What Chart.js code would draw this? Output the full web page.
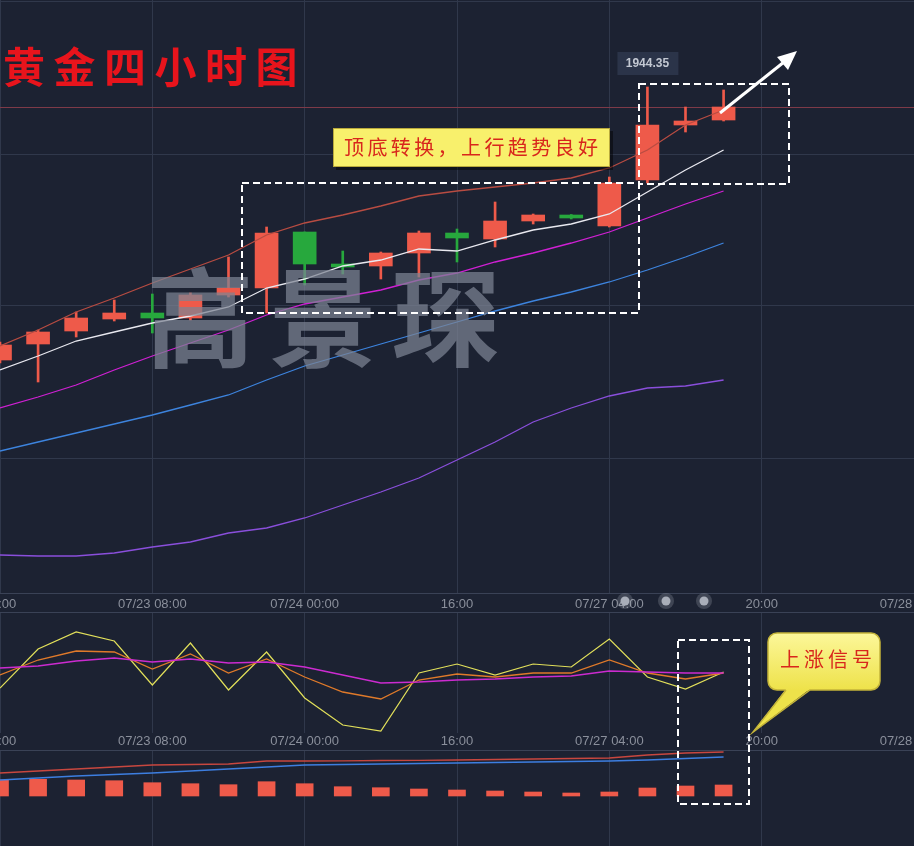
<!DOCTYPE html>
<html>
<head>
<meta charset="utf-8">
<script src="https://cdn.jsdelivr.net/npm/chart.js@4.4.1/dist/chart.umd.min.js"></script>
<style>
  html, body { margin: 0; padding: 0; background: #1c2232; width: 914px; height: 846px; overflow: hidden; }
  canvas { position: absolute; left: 0; }
</style>
</head>
<body>
<canvas id="mainChart" width="914" height="612" style="top:0"></canvas>
<canvas id="kdjChart" width="914" height="138" style="top:612px"></canvas>
<canvas id="macdChart" width="914" height="96" style="top:750px"></canvas>
<canvas id="marks" width="914" height="846" style="top:0"></canvas>
<script>
// 4小时K线的时间槽（后面几格是空白的未来时段）
const categories = ['07/22 16:00', '07/22 20:00', '07/23 00:00', '07/23 04:00', '07/23 08:00', '07/23 12:00',
  '07/23 16:00', '07/23 20:00', '07/24 00:00', '07/24 04:00', '07/24 08:00', '07/24 12:00', '07/24 16:00',
  '07/24 20:00', '07/25 00:00', '07/27 00:00', '07/27 04:00', '07/27 08:00', '07/27 12:00', '07/27 16:00',
  '07/27 20:00', '07/28 00:00', '07/28 04:00', '07/28 08:00', '07/28 12:00'];
const tickLabels = ['16:00', '07/23 08:00', '07/24 00:00', '16:00', '07/27 04:00', '20:00', '07/28 12:00'];

// K线
const opens  = [1859.72, 1864.68, 1868.71, 1872.43, 1874.29, 1872.74, 1879.87, 1882.04, 1899.40, 1889.48,
  1888.86, 1892.89, 1899.09, 1897.23, 1902.81, 1904.67, 1901.26, 1915.52, 1932.57, 1934.12];
const highs  = [1865.30, 1869.02, 1874.60, 1878.32, 1880.18, 1880.49, 1891.65, 1900.95, 1899.40, 1893.51,
  1893.20, 1899.71, 1900.33, 1908.70, 1904.98, 1904.82, 1916.45, 1944.35, 1938.15, 1943.42];
const lows   = [1858.79, 1852.90, 1866.85, 1871.81, 1868.09, 1872.12, 1879.25, 1874.29, 1882.97, 1886.38,
  1884.83, 1885.45, 1890.10, 1894.75, 1901.88, 1903.43, 1900.95, 1914.59, 1930.40, 1933.81];
const closes = [1864.37, 1868.40, 1872.74, 1874.29, 1872.74, 1879.87, 1882.04, 1899.09, 1889.48, 1888.55,
  1892.89, 1899.09, 1897.54, 1902.81, 1904.67, 1903.74, 1914.59, 1932.57, 1933.81, 1938.15];

// 均线
const maUpper = [1864.06, 1869.02, 1874.60, 1878.94, 1883.59, 1887.93, 1892.27, 1898.47, 1902.19, 1904.67,
  1907.46, 1910.56, 1912.11, 1913.35, 1914.59, 1916.14, 1919.24, 1924.82, 1932.57, 1937.22];
const ma5  = [1856.62, 1860.96, 1865.61, 1868.40, 1871.19, 1873.36, 1876.15, 1882.04, 1884.83, 1888.86,
  1890.72, 1894.13, 1893.51, 1896.92, 1900.02, 1901.88, 1904.98, 1911.80, 1918.62, 1924.82];
const ma10 = [1844.84, 1848.25, 1851.97, 1856.62, 1860.96, 1864.99, 1869.02, 1873.67, 1877.08, 1879.25,
  1881.42, 1884.52, 1886.69, 1890.10, 1892.89, 1895.99, 1899.40, 1903.74, 1908.08, 1912.11];
const ma20 = [1831.51, 1834.30, 1837.09, 1839.88, 1842.67, 1845.77, 1848.87, 1853.52, 1857.86, 1861.27,
  1864.68, 1868.09, 1871.50, 1874.91, 1878.01, 1880.80, 1883.90, 1887.62, 1891.65, 1895.99];
const ma60 = [1799.27, 1798.96, 1798.96, 1799.89, 1801.75, 1803.30, 1806.09, 1807.64, 1810.74, 1814.77,
  1818.80, 1823.14, 1828.72, 1834.30, 1840.50, 1844.84, 1848.56, 1851.04, 1851.66, 1853.52];
const priceGrid = [1970.70, 1923.58, 1876.46, 1829.34];

// KDJ
const kLine = [47.93, 60.33, 67.77, 66.94, 52.89, 65.29, 49.59, 61.16, 46.28, 33.88,
  28.10, 43.80, 48.76, 46.28, 49.59, 49.59, 60.33, 49.59, 44.63, 49.59];
const dLine = [53.72, 55.37, 59.50, 61.98, 58.68, 61.16, 57.85, 58.68, 54.55, 47.93,
  41.32, 42.15, 43.80, 44.63, 46.28, 47.11, 51.24, 50.41, 49.59, 49.59];
const jLine = [37.19, 69.42, 83.47, 76.03, 39.67, 74.38, 35.54, 66.94, 28.93, 6.61,
  1.65, 49.59, 57.02, 47.93, 57.02, 54.55, 77.69, 46.28, 36.36, 50.41];

// MACD
const dif  = [11.5, 12.5, 13.5, 14.5, 15.5, 15.75, 16, 17.5, 17.5, 17.6, 17.75, 17.85, 18, 18.25, 18.5, 18.75, 19, 20.5, 21.5, 22];
const dea  = [8, 9, 10, 10.75, 11.5, 12.5, 13.5, 14.5, 15.5, 15.75, 16, 16.25, 16.5, 16.75, 17, 17.25, 17.5, 18, 18.75, 19.5];
const hist = [8, 8.35, 8, 7.65, 6.65, 6.15, 5.65, 7.15, 6.15, 4.65, 4.15, 3.5, 3, 2.5, 2, 1.5, 2, 4, 5, 5.5];

const RED = '#ee5a4a';
const GREEN = '#27a83d';
const GRID = '#30384b';
const AXIS_TEXT = '#8a8f9b';

Chart.defaults.font.family = '"Liberation Sans", Arial, sans-serif';
Chart.defaults.animation = false;

const candleColors = opens.map((o, i) => closes[i] >= o ? RED : GREEN);

function line(data, color, width) {
  return { type: 'line', data: data, borderColor: color, borderWidth: width || 1.2,
    pointRadius: 0, tension: 0, fill: false };
}

function timeAxis(showLabels, height, pad) {
  return {
    offset: false,
    border: { display: false },
    grid: { offset: false, drawTicks: false, color: c => c.index % 4 === 0 ? GRID : 'rgba(0,0,0,0)' },
    ticks: {
      display: showLabels, autoSkip: false, maxRotation: 0, padding: pad || 0,
      color: AXIS_TEXT, font: { size: 13 },
      callback: (v, i) => i % 4 === 0 ? tickLabels[i / 4] : ''
    },
    afterFit: s => { s.paddingLeft = 0; s.paddingRight = 0; s.height = height; }
  };
}

function hiddenY(min, max, grid) {
  return {
    min: min, max: max,
    border: { display: false },
    ticks: { display: false },
    grid: { drawTicks: false, display: !!grid, color: GRID },
    afterBuildTicks: s => { if (grid) s.ticks = grid.map(v => ({ value: v })); },
    afterFit: s => { s.width = 0; }
  };
}

const basePlugins = { legend: { display: false }, tooltip: { enabled: false } };

// 最新价横线和最高价标签
const priceMarks = {
  id: 'priceMarks',
  beforeDatasetsDraw(chart) {
    const { ctx, chartArea, scales } = chart;
    const y = Math.round(scales.y.getPixelForValue(closes[closes.length - 1])) + 0.5;
    ctx.save();
    ctx.strokeStyle = '#7e3a48';
    ctx.lineWidth = 1;
    ctx.beginPath();
    ctx.moveTo(chartArea.left, y);
    ctx.lineTo(chartArea.right, y);
    ctx.stroke();
    ctx.restore();
  },
  afterDraw(chart) {
    const { ctx, scales } = chart;
    const top = Math.max(...highs);
    const idx = highs.indexOf(top);
    const x = scales.x.getPixelForValue(idx);
    const y = scales.y.getPixelForValue(top);
    ctx.save();
    ctx.fillStyle = '#2b3449';
    ctx.fillRect(x - 30, y - 35, 61, 23);
    ctx.fillStyle = '#c3c8d2';
    ctx.font = 'bold 12px "Liberation Sans", Arial, sans-serif';
    ctx.textAlign = 'center';
    ctx.textBaseline = 'middle';
    ctx.fillText(top.toFixed(2), x, y - 23);
    ctx.restore();
  }
};

new Chart(document.getElementById('mainChart').getContext('2d'), {
  type: 'bar',
  data: {
    labels: categories,
    datasets: [
      line(ma5, '#e9e9f0', 1.3),
      line(maUpper, '#b84c42', 1.3),
      line(ma10, '#d020d4', 1.3),
      line(ma20, '#3d84de', 1.3),
      line(ma60, '#8a4fdc', 1.3),
      { label: 'body', data: opens.map((o, i) => [o, closes[i]]), backgroundColor: candleColors,
        barThickness: 23, grouped: false, minBarLength: 2 },
      { label: 'wick', data: lows.map((l, i) => [l, highs[i]]), backgroundColor: candleColors,
        barThickness: 2, grouped: false }
    ]
  },
  options: {
    responsive: false,
    layout: { padding: 0 },
    plugins: basePlugins,
    scales: { x: timeAxis(true, 18, 3), y: hiddenY(1787.18, 1971.32, priceGrid) }
  },
  plugins: [priceMarks]
});

new Chart(document.getElementById('kdjChart').getContext('2d'), {
  type: 'line',
  data: {
    labels: categories,
    datasets: [
      line(dLine, '#cc2bd0', 1.4),
      line(kLine, '#e07a2a', 1.3),
      line(jLine, '#e2e05a', 1.2)
    ]
  },
  options: {
    responsive: false,
    layout: { padding: 0 },
    plugins: basePlugins,
    scales: { x: timeAxis(true, 17, 1), y: hiddenY(0, 100, null) }
  }
});

new Chart(document.getElementById('macdChart').getContext('2d'), {
  type: 'bar',
  data: {
    labels: categories,
    datasets: [
      line(dif, '#c8473f', 1.3),
      line(dea, '#3d7ee0', 1.3),
      { label: 'macd', data: hist, backgroundColor: RED, barThickness: 17 }
    ]
  },
  options: {
    responsive: false,
    layout: { padding: 0 },
    plugins: basePlugins,
    scales: { x: timeAxis(false, 0), y: hiddenY(-25, 23, null) }
  }
});

// 手绘标注层
const mk = document.getElementById('marks').getContext('2d');
const CJK = '"Noto Sans CJK SC", sans-serif';

mk.strokeStyle = '#3a4256';
mk.lineWidth = 1;
[593.5, 612.5, 750.5].forEach(y => {
  mk.beginPath(); mk.moveTo(0, y); mk.lineTo(914, y); mk.stroke();
});

// 水印
mk.save();
mk.font = 'bold 108px ' + CJK;
mk.fillStyle = 'rgba(125,131,147,0.72)';
mk.textAlign = 'center';
mk.textBaseline = 'middle';
['高', '景', '琛'].forEach((ch, i) => mk.fillText(ch, 200 + i * 123, 318));
mk.restore();

// 标题
mk.save();
mk.font = 'bold 42px ' + CJK;
mk.fillStyle = '#e8141c';
mk.textAlign = 'center';
mk.textBaseline = 'middle';
'黄金四小时图'.split('').forEach((ch, i) => mk.fillText(ch, 24 + i * 50.5, 67));
mk.restore();

function dashedRect(x, y, w, h) {
  mk.save();
  mk.strokeStyle = '#ffffff';
  mk.lineWidth = 2;
  mk.setLineDash([7, 4]);
  mk.strokeRect(x, y, w, h);
  mk.restore();
}
dashedRect(242, 183, 397, 130);
dashedRect(639, 84, 150, 100);
dashedRect(678, 640, 71, 164);

// 箭头
mk.save();
mk.strokeStyle = '#ffffff';
mk.fillStyle = '#ffffff';
mk.lineWidth = 3;
mk.beginPath(); mk.moveTo(720, 113); mk.lineTo(784, 62); mk.stroke();
mk.beginPath(); mk.moveTo(797, 51); mk.lineTo(777, 57); mk.lineTo(788, 70); mk.closePath(); mk.fill();
mk.restore();

// 黄色说明框
function spacedText(str, x0, pitch, y) {
  str.split('').forEach((ch, i) => mk.fillText(ch, x0 + i * pitch, y));
}
mk.save();
mk.fillStyle = 'rgba(0,0,0,0.45)';
mk.fillRect(336, 131, 277, 39);
mk.fillStyle = '#f8f06c';
mk.fillRect(333, 128, 277, 39);
mk.strokeStyle = '#b9a93c';
mk.lineWidth = 1;
mk.strokeRect(333.5, 128.5, 276, 38);
mk.font = '20px ' + CJK;
mk.fillStyle = '#d8261c';
mk.textAlign = 'center';
mk.textBaseline = 'middle';
spacedText('顶底转换，上行趋势良好', 354, 23.4, 147);
mk.restore();

// 上涨信号气泡
mk.save();
const grad = mk.createLinearGradient(0, 633, 0, 690);
grad.addColorStop(0, '#fcf79a');
grad.addColorStop(1, '#eee24a');
mk.fillStyle = grad;
mk.strokeStyle = '#c4b43a';
mk.lineWidth = 1.5;
mk.beginPath();
mk.roundRect(768, 633, 112, 57, 9);
mk.fill();
mk.stroke();
mk.beginPath();
mk.moveTo(786, 689); mk.lineTo(810, 689); mk.lineTo(753, 732); mk.closePath();
mk.fill();
mk.beginPath();
mk.moveTo(786, 690); mk.lineTo(753, 732); mk.lineTo(810, 690);
mk.stroke();
mk.font = '20px ' + CJK;
mk.fillStyle = '#d8261c';
mk.textAlign = 'center';
mk.textBaseline = 'middle';
spacedText('上涨信号', 790, 24, 659);
mk.restore();

// 时间轴上的小圆点
mk.save();
[625, 666, 704].forEach(x => {
  mk.fillStyle = 'rgba(190,195,205,0.22)';
  mk.beginPath(); mk.arc(x, 601, 8, 0, Math.PI * 2); mk.fill();
  mk.fillStyle = '#a9aeb9';
  mk.beginPath(); mk.arc(x, 601, 4.5, 0, Math.PI * 2); mk.fill();
});
mk.restore();
</script>
</body>
</html>
